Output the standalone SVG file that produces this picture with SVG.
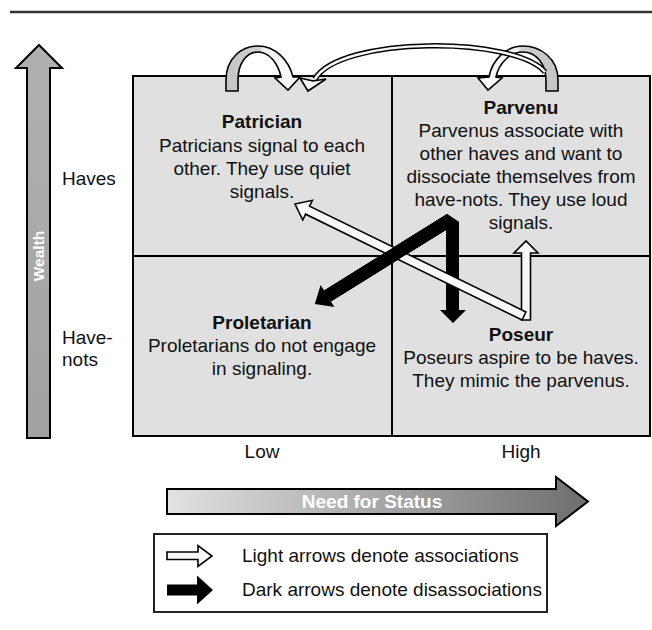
<svg xmlns="http://www.w3.org/2000/svg" width="652" height="630" viewBox="0 0 652 630">
<style>
.cell{fill:#e0e0e0;stroke:#000;stroke-width:2}
.t{font-family:"Liberation Sans",Arial,Helvetica,sans-serif;font-size:19px;fill:#111;text-anchor:middle}
.l{text-anchor:start}
.b{font-weight:bold}
.w{fill:#fff;font-weight:bold}
.light{fill:#f8f8f8;stroke:#000;stroke-width:1.6;stroke-linejoin:miter}
.dark{fill:#000;stroke:none}
.loop{stroke:#000;stroke-width:1.6;stroke-linejoin:miter}
</style>
<defs>
<linearGradient id="gL" x1="0" y1="0" x2="1" y2="0">
<stop offset="0" stop-color="#c4c4c4"/><stop offset="0.46" stop-color="#d0d0d0"/><stop offset="0.5" stop-color="#f2f2f2"/><stop offset="1" stop-color="#fafafa"/>
</linearGradient>
<linearGradient id="gR" x1="1" y1="0" x2="0" y2="0">
<stop offset="0" stop-color="#c4c4c4"/><stop offset="0.46" stop-color="#d0d0d0"/><stop offset="0.5" stop-color="#f2f2f2"/><stop offset="1" stop-color="#fafafa"/>
</linearGradient>
<linearGradient id="gStatus" x1="0" y1="0" x2="1" y2="0">
<stop offset="0" stop-color="#e2e2e2"/><stop offset="1" stop-color="#6e6e6e"/>
</linearGradient>
<linearGradient id="gWealth" x1="0" y1="1" x2="0" y2="0">
<stop offset="0" stop-color="#a2a2a2"/><stop offset="1" stop-color="#b0b0b0"/>
</linearGradient>
</defs>

<line x1="10" y1="12" x2="652" y2="12" stroke="#333" stroke-width="2.5"/>

<g id="axis-wealth">
<polygon points="27,438 27,68 16,68 39,45 62,68 50,68 50,438" fill="url(#gWealth)" stroke="#000" stroke-width="2"/>
<text class="t w" style="font-size:15.5px" transform="translate(44,256) rotate(-90)">Wealth</text>
<text class="t l" x="62" y="185">Haves</text>
<text class="t l" x="62" y="344">Have-</text>
<text class="t l" x="62" y="366">nots</text>
</g>

<g id="node-patrician">
<rect class="cell" x="133" y="76" width="259" height="180"/>
<text class="t b" x="262" y="128">Patrician</text>
<text class="t" x="262" y="152">Patricians signal to each</text>
<text class="t" x="262" y="175">other. They use quiet</text>
<text class="t" x="262" y="198">signals.</text>
</g>
<g id="node-parvenu">
<rect class="cell" x="392" y="76" width="258" height="180"/>
<text class="t b" x="521" y="114">Parvenu</text>
<text class="t" x="521" y="137">Parvenus associate with</text>
<text class="t" x="521" y="160">other haves and want to</text>
<text class="t" x="521" y="183">dissociate themselves from</text>
<text class="t" x="521" y="206">have-nots. They use loud</text>
<text class="t" x="521" y="229">signals.</text>
</g>
<g id="node-proletarian">
<rect class="cell" x="133" y="256" width="259" height="180"/>
<text class="t b" x="262" y="329">Proletarian</text>
<text class="t" x="262" y="352">Proletarians do not engage</text>
<text class="t" x="262" y="375">in signaling.</text>
</g>
<g id="node-poseur">
<rect class="cell" x="392" y="256" width="258" height="180"/>
<text class="t b" x="521" y="341">Poseur</text>
<text class="t" x="521" y="364">Poseurs aspire to be haves.</text>
<text class="t" x="521" y="387">They mimic the parvenus.</text>
</g>

<g id="axis-status">
<text class="t" x="262" y="458">Low</text>
<text class="t" x="521" y="458">High</text>
<polygon points="167,489 556,489 556,477 588,501.5 556,526 556,514 167,514" fill="url(#gStatus)" stroke="#000" stroke-width="2"/>
<text class="t w" x="372" y="508">Need for Status</text>
</g>

<g id="connectors">
<path class="loop" fill="url(#gL)" d="M 226 91 L 226 80 C 226 58 242 46 258 46 C 275 46 289 60 293 77 L 300 77 L 288 90 L 275 78 L 281 77 C 278 63 269 52 258 52 C 246 52 238 64 238 80 L 238 91 Z"/>
<path class="loop" fill="url(#gR)" d="M 558 91 L 558 80 C 558 58 540 46 523 46 C 506 46 492 60 489 77 L 478 78 L 488 90 L 502 78 L 496 77 C 499 63 510 52 523 52 C 536 52 546 64 546 80 L 546 91 Z"/>
<path d="M 545 72 C 515 36 340 36 315 79" fill="none" stroke="#000" stroke-width="5.5"/>
<path d="M 545 72 C 515 36 340 36 315 79" fill="none" stroke="#f8f8f8" stroke-width="2.5"/>
<polygon class="light" points="300,78 308,91 326,79 313,81"/>

<polygon class="dark" points="447,214 459,222 459,310 466,310 453,323 440,310 446,310 446,229.9 330.93,301.52 334.36,307.04 314.8,303.9 320.64,284.96 324.07,290.48"/>
<polygon class="light" points="521.5,320 521.5,253 514,253 526,241 538,253 530.5,253 530.5,320"/>
<polygon class="light" points="525.98,311.96 309.56,206.11 312.41,200.27 295,204 302.75,220.03 305.6,214.19 522.02,320.04"/>
<polygon class="dark" points="447,214 459,222 459,236 446,236 446,229.9 330.93,301.52 324.07,290.48"/>
</g>

<g id="legend">
<rect x="154" y="534" width="393" height="78" fill="#fff" stroke="#222" stroke-width="2"/>
<polygon class="light" points="167,552 198,552 198,545.5 212,556 198,566.5 198,559.5 167,559.5"/>
<polygon class="dark" points="167,584.5 197,584.5 197,575.5 213,590 197,604.5 197,595.5 167,595.5"/>
<text class="t l" x="242" y="562">Light arrows denote associations</text>
<text class="t l" x="242" y="596">Dark arrows denote disassociations</text>
</g>
</svg>
